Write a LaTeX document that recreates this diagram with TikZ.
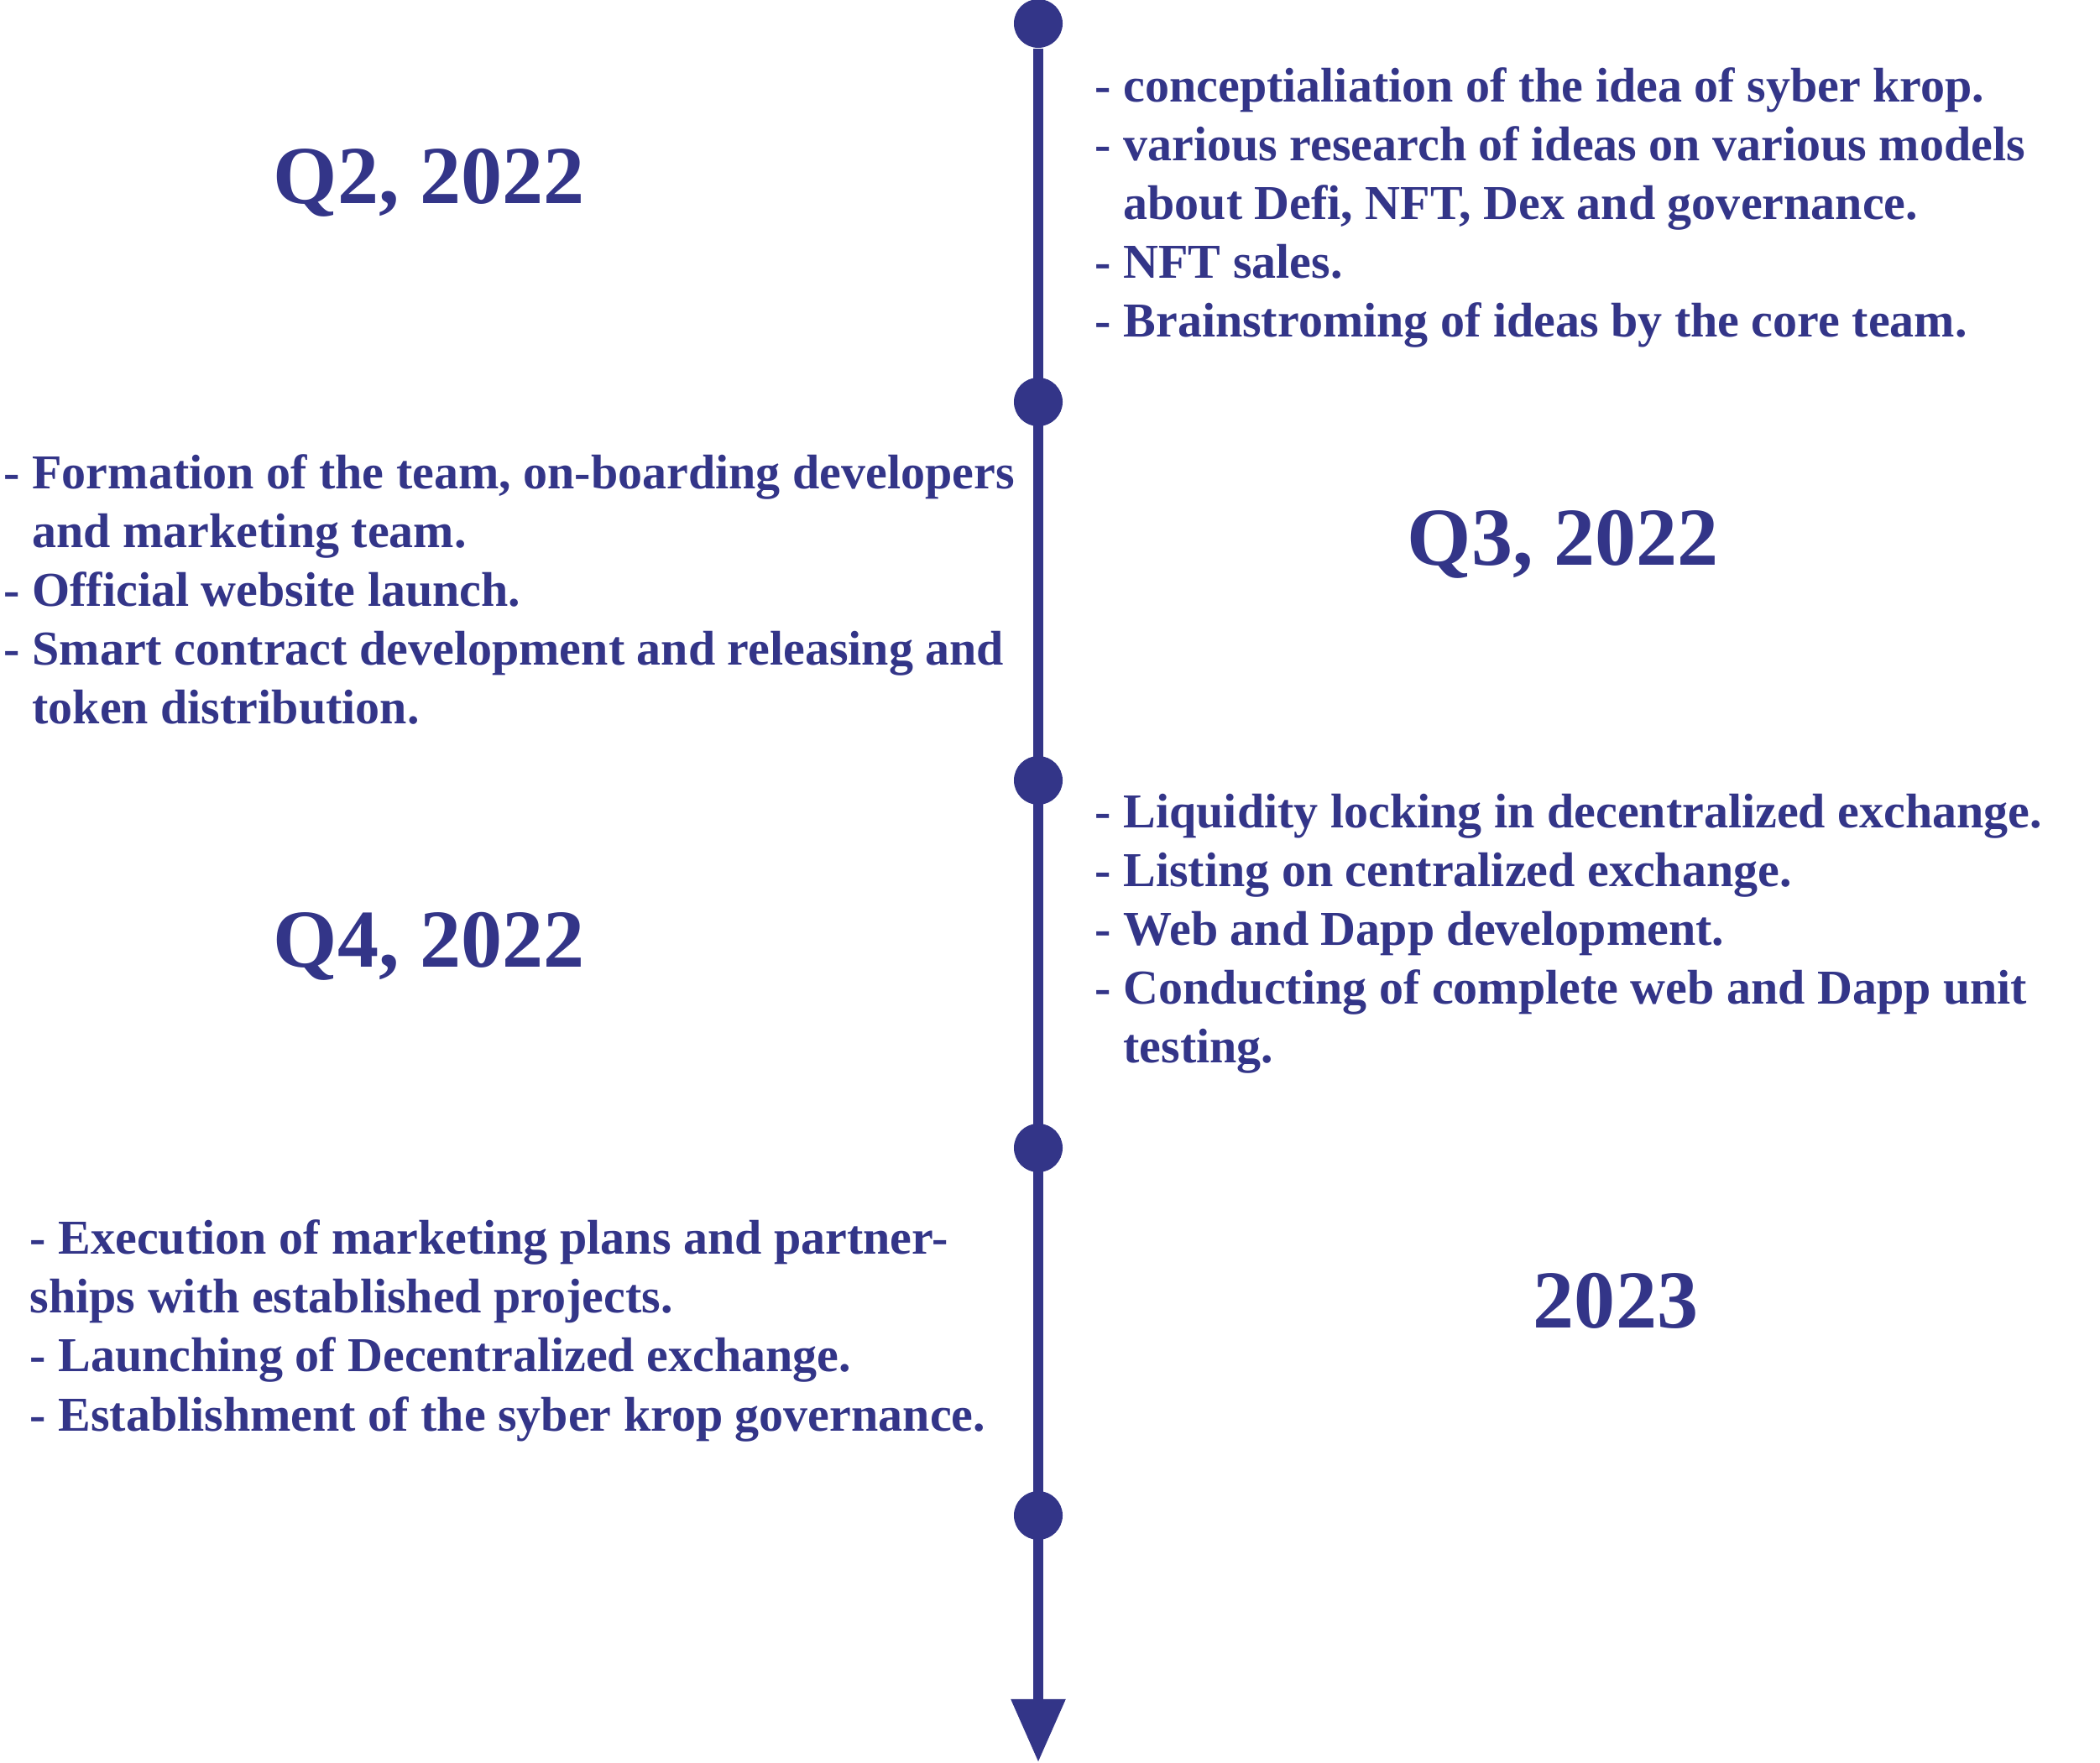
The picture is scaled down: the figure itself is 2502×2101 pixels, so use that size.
\documentclass[tikz,border=0pt]{standalone}
\usepackage{fontspec}
\setmainfont{Liberation Serif}
\usetikzlibrary{arrows.meta,positioning}
\definecolor{azul}{RGB}{51,53,136}

\begin{document}
\begin{tikzpicture}[
x=0.01cm, y=-0.01cm,
marco/.style={
circle,
fill=azul,
inner sep=0pt,
minimum size=0.58cm
},
periodo/.style={
anchor=base,
inner sep=0pt,
text=azul,
font=\fontsize{27.9}{33}\selectfont\bfseries
},
itens/.style={
anchor=base west,
align=left,
inner sep=0pt,
text=azul,
font=\fontsize{16.5}{19.92}\selectfont\bfseries
},
eixo/.style={-{Triangle[width=0.62cm,length=0.75cm]}, line width=0.12cm, draw=azul}
]
\useasboundingbox (0,0) rectangle (2502,2101);

% marcos da linha do tempo
\node[marco] (m1) at (1237,28) {};
\node[marco] (m2) at (1237,479) {};
\node[marco] (m3) at (1237,930) {};
\node[marco] (m4) at (1237,1368) {};
\node[marco] (m5) at (1237,1806) {};
\coordinate (fim) at (1237,2100);

\draw[eixo] (m1) -- (fim);

% periodos
\node[periodo] (q2) at (511,243) {Q2, 2022};
\node[periodo] (q3) at (1862,674) {Q3, 2022};
\node[periodo] (q4) at (511,1153) {Q4, 2022};
\node[periodo] (a23) at (1925,1582) {2023};

% atividades (ancoradas na ultima linha)
\node[itens] (t1) at (1304,402) {- conceptialiation of the idea of syber krop.\\
- various research of ideas on various models\\
\hphantom{- }about Defi, NFT, Dex and governance.\\
- NFT sales.\\
- Brainstroming of ideas by the core team.};

\node[itens] (t2) at (4,863) {- Formation of the team, on-boarding developers\\
\hphantom{- }and marketing team.\\
- Official website launch.\\
- Smart contract development and releasing and\\
\hphantom{- }token distribution.};

\node[itens] (t3) at (1304,1267) {- Liquidity locking in decentralized exchange.\\
- Listing on centralized exchange.\\
- Web and Dapp development.\\
- Conducting of complete web and Dapp unit\\
\hphantom{- }testing.};

\node[itens] (t4) at (35,1705) {- Execution of marketing plans and partner-\\
ships with established projects.\\
- Launching of Decentralized exchange.\\
- Establishment of the syber krop governance.};

\end{tikzpicture}
\end{document}
